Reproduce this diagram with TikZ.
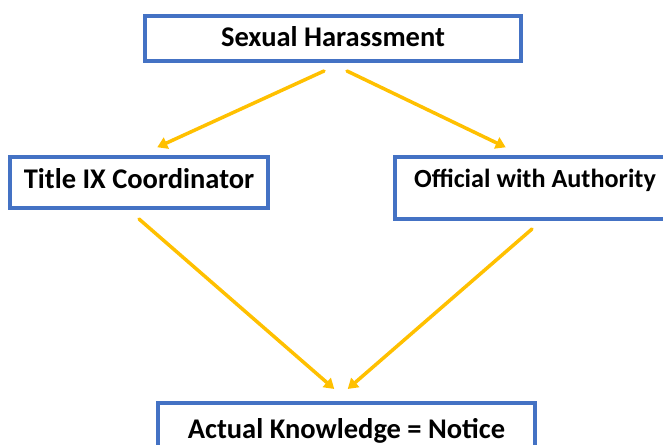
\documentclass[tikz,border=0pt]{standalone}
\usepackage{fontspec}
\setmainfont{Carlito}
\usetikzlibrary{arrows.meta}
\definecolor{boxblue}{HTML}{4472C4}
\definecolor{arrowgold}{HTML}{FFC000}
\tikzset{
  box/.style={draw=boxblue, line width=3.5pt, fill=white, inner sep=0pt,
    font=\fontsize{28.5}{32}\selectfont\bfseries, text=black},
  link/.style={draw=arrowgold, line width=3.5pt, line cap=round,
    -{Triangle[length=10pt,width=12pt]}, shorten >=-3pt}
}
\begin{document}
\begin{tikzpicture}[x=1pt,y=-1pt]
\useasboundingbox (0,0) rectangle (663,444);
\node[box, minimum width=376pt, minimum height=45pt, text height=20pt, text depth=3pt] (sh) at (333,38.5) {Sexual Harassment};
\node[box, minimum width=258pt, minimum height=51pt, text height=20pt, text depth=9pt] (tix) at (139,182.5) {Title IX Coordinator};
\node[box, minimum width=280pt, minimum height=62pt, text height=20pt, text depth=22pt,
  font=\fontsize{26.2}{30}\selectfont\bfseries] (owa) at (535,188) {Official with Authority};
\node[box, minimum width=377pt, minimum height=56pt, text height=20pt, text depth=6pt] (akn) at (346.5,431) {Actual Knowledge = Notice};
\coordinate (a1s) at (324,71);
\coordinate (a1e) at (160,146);
\coordinate (a2s) at (347,71);
\coordinate (a2e) at (503,146);
\coordinate (a3s) at (139,219);
\coordinate (a3e) at (332,387);
\coordinate (a4s) at (532,229);
\coordinate (a4e) at (350,387);
\draw[link] (a1s) -- (a1e);
\draw[link] (a2s) -- (a2e);
\draw[link] (a3s) -- (a3e);
\draw[link] (a4s) -- (a4e);
\end{tikzpicture}
\end{document}
